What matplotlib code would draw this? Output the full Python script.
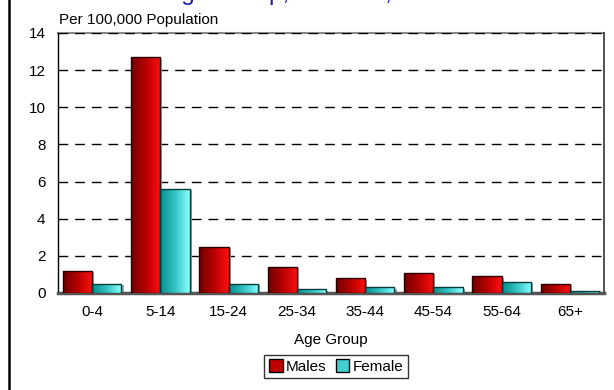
import numpy as np
import matplotlib
matplotlib.use("Agg")
import matplotlib.pyplot as plt
from matplotlib.colors import LinearSegmentedColormap
from matplotlib.patches import Rectangle
from matplotlib.lines import Line2D

plt.rcParams['font.family'] = ['Liberation Sans', 'DejaVu Sans']

age_groups = ["0-4", "5-14", "15-24", "25-34", "35-44", "45-54", "55-64", "65+"]
males = [1.2, 12.7, 2.5, 1.4, 0.8, 1.1, 0.9, 0.5]
female = [0.5, 5.6, 0.5, 0.2, 0.3, 0.3, 0.6, 0.1]
series_names = ["Males", "Female"]
y_ticks = [0, 2, 4, 6, 8, 10, 12, 14]

male_cmap = LinearSegmentedColormap.from_list("m", ["#6e0000", "#b80000", "#ff1010"])
female_cmap = LinearSegmentedColormap.from_list("f", ["#0a8c8c", "#33c4c4", "#8cffff"])
grad = np.linspace(0, 1, 64).reshape(1, -1)

fig = plt.figure(figsize=(6.14, 3.90), dpi=100)
ax = fig.add_axes([58 / 614, 1 - 293 / 390, 546 / 614, 260 / 390])

x = np.arange(len(age_groups))
w = 0.43


def gradient_bars(xs, vals, cmap, edge):
    bars = ax.bar(xs, vals, width=w, facecolor="none", edgecolor=edge,
                  linewidth=1.0, zorder=4)
    for b in bars:
        x0, y0 = b.get_x(), b.get_y()
        bw, bh = b.get_width(), b.get_height()
        # soft drop shadow
        ax.add_patch(Rectangle((x0 + 0.03, y0), bw, bh - 0.08 if bh > 0.1 else bh,
                               facecolor="#a0a0a0", edgecolor="none", zorder=2))
        im = ax.imshow(grad, cmap=cmap, extent=(x0, x0 + bw, y0, y0 + bh),
                       aspect="auto", zorder=3, interpolation="bilinear")
        im.set_clip_path(b)
    return bars


gradient_bars(x - w / 2, males, male_cmap, "#2a0000")
gradient_bars(x + w / 2, female, female_cmap, "#003c3c")

ax.set_xlim(-0.5, len(age_groups) - 0.5)
ax.set_ylim(0, 14)
ax.set_yticks(y_ticks)
ax.set_xticks(x)
ax.set_xticklabels(age_groups)
ax.tick_params(axis="both", length=0, labelsize=11)
ax.tick_params(axis="y", pad=9)
ax.tick_params(axis="x", pad=9)

for yv in y_ticks[1:]:
    ax.axhline(yv, color="black", linewidth=1.0, dashes=(7, 5), zorder=1)

ax.spines["left"].set_color("black")
ax.spines["left"].set_linewidth(1.0)
ax.spines["right"].set_color("#333333")
ax.spines["right"].set_linewidth(1.2)
ax.spines["top"].set_color("#888888")
ax.spines["top"].set_linewidth(1.5)
ax.spines["top"].set_zorder(0)
ax.spines["bottom"].set_color("#555555")
ax.spines["bottom"].set_linewidth(2.5)

ax.set_xlabel("Age Group", fontsize=11, labelpad=10)

fig.text(59 / 614, 1 - 20 / 390, "Per 100,000 Population", fontsize=11,
         ha="left", va="center")

fig.text(83 / 614, 1.0, "Rate in Age Group, 1990-99, Males and Females",
         fontsize=17.5, color="#1c1ca8", ha="left", va="baseline")

# outer frame edge on the left
fig.add_artist(Line2D([9 / 614, 9 / 614], [0, 1], color="black", linewidth=1.8,
                      transform=fig.transFigure))

handles = [Rectangle((0, 0), 1, 1, facecolor="#c00000", edgecolor="black"),
           Rectangle((0, 0), 1, 1, facecolor="#40d0d0", edgecolor="black")]
leg = fig.legend(handles, series_names, loc="center",
                 bbox_to_anchor=(336 / 614, 1 - 366.5 / 390), ncol=2,
                 fontsize=11, frameon=True, fancybox=False, edgecolor="black",
                 handlelength=0.9, handleheight=0.9, handletextpad=0.2,
                 columnspacing=0.6, borderpad=0.3, borderaxespad=0)
leg.get_frame().set_linewidth(1.0)

fig.savefig("out.png", dpi=100)
